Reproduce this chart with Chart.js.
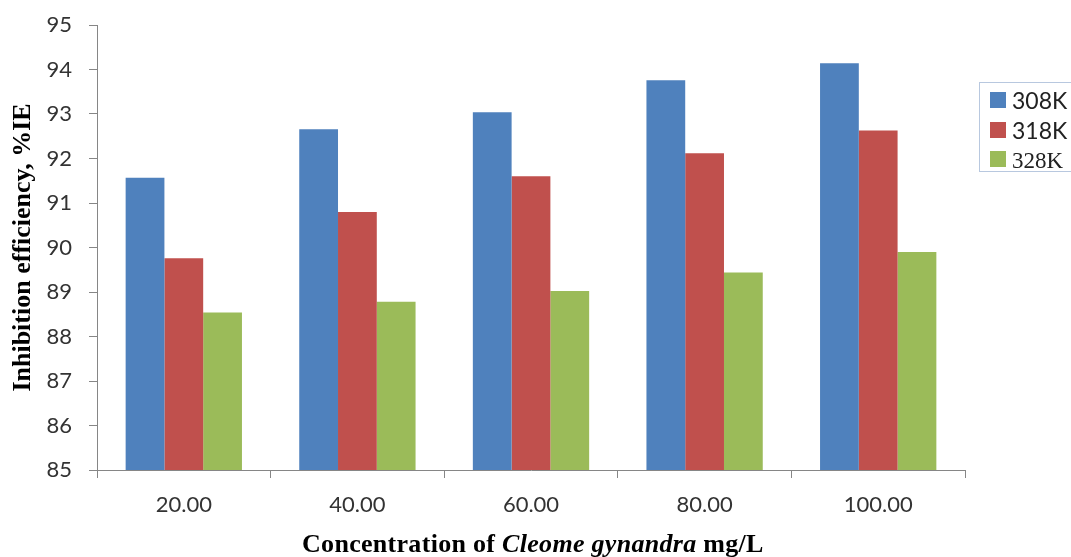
<!DOCTYPE html>
<html>
<head>
<meta charset="utf-8">
<script src="https://cdn.jsdelivr.net/npm/chart.js@4/dist/chart.umd.min.js"></script>
<style>
  html, body { margin: 0; padding: 0; background: #fff; overflow: hidden; }
  #wrap { position: relative; width: 1071px; height: 557px; overflow: hidden; }
  #c { position: absolute; left: 0; top: 0; }
  #xtitle { position: absolute; left: 302px; top: 529px; font-family: "Liberation Serif", serif; font-weight: bold; font-size: 26px; color: #000; white-space: nowrap; letter-spacing: 0.3px; }
  #legend { position: absolute; left: 979px; top: 82px; width: 110px; height: 90px; border: 1px solid #b8c8df; box-sizing: border-box; }
  .li { position: absolute; left: 10px; height: 20px; white-space: nowrap; font-family: Lato, "Open Sans", sans-serif; font-size: 23px; color: #222; line-height: 20px; }
  .sw { display: inline-block; width: 16px; height: 16px; vertical-align: top; margin-top: 2px; margin-right: 6px; }
</style>
</head>
<body>
<div id="wrap">
  <canvas id="c" width="1071" height="557"></canvas>
  <div id="legend"></div>
  <div id="xtitle">Concentration of <i>Cleome gynandra</i> mg/L</div>
</div>
<script>
const categories = ["20.00", "40.00", "60.00", "80.00", "100.00"];
const seriesNames = ["308K", "318K", "328K"];
const values308K = [91.57, 92.66, 93.04, 93.76, 94.14];
const values318K = [89.76, 90.80, 91.60, 92.12, 92.63];
const values328K = [88.54, 88.78, 89.02, 89.44, 89.90];
const seriesColors = ["#4F81BD", "#C0504D", "#9BBB59"];
const yTicks = [85, 86, 87, 88, 89, 90, 91, 92, 93, 94, 95];

const seriesValues = [values308K, values318K, values328K];

// HTML legend
const legend = document.getElementById('legend');
const legendTops = [7, 37, 66];
const legendFonts = ['Lato, "Open Sans", sans-serif', 'Lato, "Open Sans", sans-serif', '"Liberation Serif", serif'];
seriesNames.forEach((name, i) => {
  const d = document.createElement('div');
  d.className = 'li';
  d.style.top = legendTops[i] + 'px';
  const sw = document.createElement('span');
  sw.className = 'sw';
  sw.style.background = seriesColors[i];
  const t = document.createElement('span');
  t.textContent = name;
  t.style.fontFamily = legendFonts[i];
  d.appendChild(sw);
  d.appendChild(t);
  legend.appendChild(d);
});

const axisColor = '#868686';
const tickFont = { family: 'Lato, "Open Sans", sans-serif', size: 22 };

new Chart(document.getElementById('c'), {
  type: 'bar',
  data: {
    labels: categories,
    datasets: seriesNames.map((name, i) => ({
      label: name,
      data: seriesValues[i],
      backgroundColor: seriesColors[i],
      borderWidth: 0,
      categoryPercentage: 0.67,
      barPercentage: 1.0
    }))
  },
  options: {
    responsive: false,
    devicePixelRatio: 1,
    animation: false,
    layout: { padding: { top: 25, right: 106, left: 0, bottom: 0 } },
    plugins: {
      legend: { display: false },
      tooltip: { enabled: false }
    },
    scales: {
      x: {
        grid: { display: true, drawOnChartArea: false, offset: true, tickLength: 8, color: axisColor, lineWidth: 1 },
        border: { display: true, color: axisColor, width: 1 },
        ticks: { font: tickFont, color: '#333', padding: 14, maxRotation: 0 },
        afterFit: (s) => { s.height = 87; s.paddingLeft = 0; s.paddingRight = 0; }
      },
      y: {
        min: 85,
        max: 95,
        afterBuildTicks: (s) => { s.ticks = yTicks.map(v => ({ value: v })); },
        grid: { display: true, drawOnChartArea: false, tickLength: 8, color: axisColor, lineWidth: 1 },
        border: { display: true, color: axisColor, width: 1 },
        ticks: { font: tickFont, color: '#333', padding: 17 },
        title: {
          display: true,
          text: 'Inhibition efficiency, %IE',
          font: { family: '"Liberation Serif", serif', weight: 'bold', size: 26 },
          color: '#000',
          padding: { top: 8, bottom: 0 }
        },
        afterFit: (s) => { s.width = 97; s.paddingTop = 0; s.paddingBottom = 0; }
      }
    }
  }
});
</script>
</body>
</html>
